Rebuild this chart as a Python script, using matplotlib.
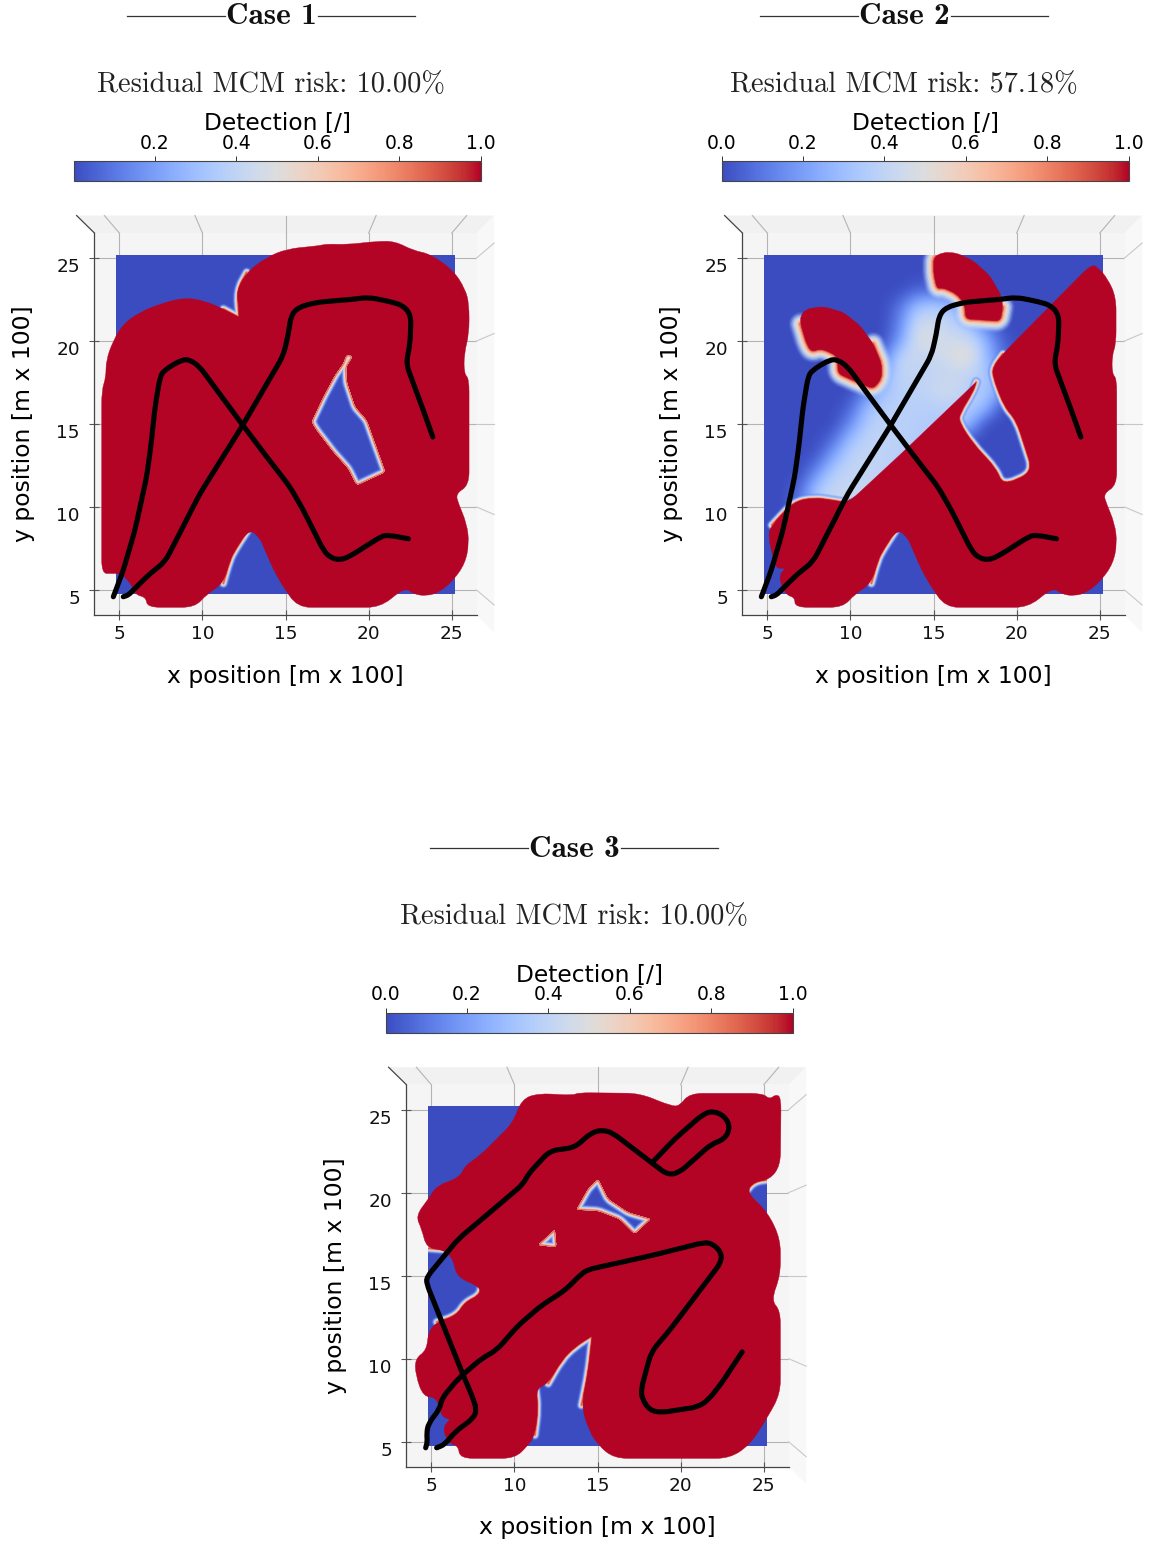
# Detection maps for the three MCM cases.
import numpy as np
import matplotlib
matplotlib.use('Agg')
import matplotlib.pyplot as plt
from matplotlib.patches import Polygon, Rectangle, PathPatch
from matplotlib.path import Path
from matplotlib.lines import Line2D
from matplotlib.cm import ScalarMappable
from matplotlib.colors import Normalize

# ------------------------------- data -------------------------------

titles = ['Case 1', 'Case 2', 'Case 3']
risks = ['Residual MCM risk: 10.00%', 'Residual MCM risk: 57.18%', 'Residual MCM risk: 10.00%']
ticks = [5, 10, 15, 20, 25]
cbar_ticks_1 = [0.2, 0.4, 0.6, 0.8, 1.0]
cbar_ticks = [0.0, 0.2, 0.4, 0.6, 0.8, 1.0]
area_x = [4.78, 25.2]
area_y = [4.76, 25.2]

# Vessel tracks, two pieces each.
track_12a = [(23.86, 14.22), (23.29, 15.82), (22.25, 18.63), (22.49, 19.83), (22.55, 21.53), (22.09, 22.13),
             (21.29, 22.37), (19.98, 22.63), (19.08, 22.51), (16.88, 22.33), (15.77, 22.03), (15.33, 21.53),
             (15.17, 20.43), (14.87, 19.13), (12.36, 14.82), (9.85, 10.81), (7.75, 6.70), (6.85, 6.0),
             (5.84, 5.0), (5.54, 4.70), (5.24, 4.60)]
track_12b = [(4.64, 4.60), (5.24, 6.20), (5.94, 8.61), (6.64, 11.81), (6.89, 13.62), (7.15, 16.02),
             (7.45, 17.83), (7.69, 18.23), (8.75, 18.87), (9.25, 18.87), (9.85, 18.43), (10.66, 17.32),
             (12.36, 15.02), (13.87, 13.02), (15.27, 11.21), (16.07, 9.81), (17.28, 7.40), (17.68, 6.96),
             (18.28, 6.80), (18.88, 7.04), (20.79, 8.25), (21.19, 8.31), (22.39, 8.09)]
track_3a = [(23.70, 10.41), (22.44, 8.50), (21.64, 7.50), (21.04, 7.10), (18.83, 6.76), (18.13, 6.90),
            (17.67, 7.60), (17.63, 8.20), (18.23, 10.41), (19.33, 11.71), (22.44, 15.81), (22.44, 16.41),
            (21.94, 16.91), (21.44, 17.01), (18.23, 16.21), (14.43, 15.37), (14.03, 15.11), (13.03, 14.11),
            (11.63, 13.21), (10.23, 12.01), (8.92, 10.51), (8.02, 10.01), (6.62, 8.80), (5.62, 7.60),
            (5.52, 7.0), (4.82, 6.10), (4.72, 5.50), (4.76, 5.0), (4.66, 4.64)]
track_3b = [(5.32, 4.64), (5.82, 4.84), (6.42, 5.60), (7.52, 6.40), (7.72, 6.90), (7.52, 7.60), (6.92, 9.0),
            (4.72, 14.51), (4.72, 14.91), (6.62, 17.21), (8.52, 18.81), (10.53, 20.52), (10.83, 21.12),
            (12.13, 22.52), (13.63, 22.72), (14.63, 23.62), (15.33, 23.78), (15.93, 23.58), (18.23, 21.82),
            (19.23, 21.06), (19.93, 21.22), (21.84, 22.92), (22.64, 23.22), (22.99, 23.92), (22.64, 24.62),
            (21.94, 24.92), (21.34, 24.72), (19.63, 23.22), (18.39, 21.92)]

# Fully detected regions (value 1).
red_1 = [(3.94, 6.00), (3.94, 17.02), (4.20, 17.83), (4.20, 18.83), (4.64, 20.03), (5.24, 21.03), (6.24, 21.73),
         (7.45, 22.23), (8.85, 22.60), (10.06, 22.44), (11.26, 21.93), (12.20, 21.43), (12.16, 22.23),
         (12.06, 23.04), (12.66, 24.14), (13.87, 25.04), (15.07, 25.54), (17.08, 25.74), (17.48, 25.84),
         (18.68, 25.80), (20.49, 26.00), (21.59, 26.00), (22.69, 25.44), (23.70, 25.24), (25.10, 24.24),
         (25.80, 23.14), (26.04, 22.23), (26.04, 20.43), (25.74, 19.23), (25.74, 18.03), (26.04, 17.73),
         (26.04, 11.31), (25.24, 10.81), (25.40, 10.21), (25.90, 9.01), (26.04, 7.81), (25.80, 6.60),
         (25.10, 5.60), (24.30, 4.90), (23.50, 4.64), (22.69, 4.76), (22.19, 5.16), (20.69, 3.96), (15.71, 3.96),
         (14.47, 5.80), (13.67, 7.61), (13.47, 8.11), (12.82, 8.71), (11.96, 7.40), (11.66, 6.80), (11.26, 5.40),
         (10.26, 4.76), (9.55, 3.96), (6.69, 3.96), (6.60, 4.56), (6.04, 4.70), (5.88, 5.00), (5.54, 5.60),
         (5.04, 6.00), (4.54, 6.00)]
red_2 = [(5.04, 8.31), (5.26, 8.91), (6.56, 10.31), (7.76, 10.57), (8.96, 10.41), (9.86, 10.25), (13.17, 13.32),
         (17.57, 17.53), (17.37, 16.92), (16.57, 15.62), (16.53, 15.12), (17.37, 13.82), (18.77, 12.31),
         (19.17, 11.31), (20.98, 12.11), (19.98, 15.22), (19.27, 16.02), (18.57, 17.83), (18.57, 18.43),
         (19.17, 19.23), (24.48, 24.60), (24.88, 24.44), (25.48, 23.74), (25.98, 22.64), (25.98, 19.83),
         (25.74, 19.13), (25.74, 18.03), (26.02, 17.73), (26.02, 11.31), (25.22, 10.81), (25.40, 10.21),
         (25.90, 9.01), (26.04, 7.81), (25.80, 6.60), (25.10, 5.60), (24.30, 4.90), (23.50, 4.64), (22.69, 4.76),
         (22.19, 5.16), (20.69, 3.96), (15.71, 3.96), (14.47, 5.80), (13.67, 7.61), (13.47, 8.11), (12.82, 8.71),
         (11.96, 7.40), (11.66, 6.80), (11.26, 5.40), (10.26, 4.76), (9.55, 3.96), (6.66, 3.96), (6.66, 4.56),
         (6.12, 4.70), (5.66, 5.80), (6.06, 6.30), (5.56, 6.30), (5.36, 6.90)]
red_2_cap_a = [(15.01, 25.04), (15.57, 25.34), (16.37, 25.30), (17.37, 24.84), (18.37, 23.94), (19.07, 22.74),
               (19.17, 22.03), (19.01, 21.19), (16.93, 21.33), (16.87, 22.23), (16.37, 22.84), (15.57, 23.20),
               (15.21, 23.14), (15.01, 24.04)]
red_2_cap_b = [(7.0, 21.53), (7.36, 21.93), (8.36, 22.07), (9.56, 21.73), (10.57, 20.93), (11.37, 19.83),
               (11.87, 18.63), (11.87, 17.73), (11.37, 17.12), (10.37, 17.53), (9.26, 18.03), (9.22, 19.03),
               (8.76, 19.33), (8.16, 19.53), (7.66, 19.33), (7.36, 19.83), (7.0, 21.03)]
red_3 = [(4.06, 18.61), (4.82, 19.61), (5.32, 20.42), (6.72, 20.92), (7.02, 21.62), (7.92, 22.22), (9.02, 23.32),
         (9.92, 24.22), (10.43, 25.62), (11.43, 25.98), (13.53, 25.86), (13.83, 26.02), (17.53, 25.98),
         (19.43, 25.22), (19.93, 25.22), (20.53, 25.98), (24.94, 25.98), (25.34, 25.62), (25.74, 25.92),
         (26.04, 25.72), (26.0, 21.62), (25.34, 20.78), (24.44, 20.66), (23.94, 20.06), (25.24, 18.81),
         (26.0, 17.21), (26.0, 15.01), (25.44, 13.51), (26.0, 12.91), (26.0, 7.90), (25.24, 6.50), (24.14, 4.80),
         (22.94, 4.0), (16.0, 4.0), (15.03, 4.80), (14.43, 5.80), (14.03, 7.20), (14.43, 9.20), (14.67, 11.37),
         (13.63, 10.71), (12.83, 9.90), (12.03, 8.50), (11.29, 8.20), (11.43, 7.0), (11.23, 5.40), (10.83, 4.80),
         (10.03, 4.0), (6.72, 4.0), (6.62, 4.76), (6.06, 4.90), (5.66, 5.80), (6.12, 6.36), (5.62, 6.50),
         (5.32, 7.70), (4.52, 7.70), (4.06, 9.0), (4.02, 10.0), (4.72, 10.51), (4.82, 11.61), (5.32, 12.21),
         (6.52, 12.61), (7.02, 13.41), (7.86, 13.81), (7.98, 14.31), (6.52, 14.91), (6.32, 16.01), (5.72, 16.57),
         (4.72, 16.65), (4.42, 17.81)]

# Undetected pockets inside the red regions.
hole_1 = [(16.57, 15.12), (17.28, 16.62), (17.98, 17.93), (18.48, 18.63), (18.68, 19.19), (19.04, 19.07),
          (18.64, 18.43), (18.68, 17.53), (19.18, 16.02), (19.88, 15.22), (21.0, 12.11), (19.28, 11.31),
          (18.78, 12.31), (17.88, 13.32), (16.88, 14.62)]
hole_3a = [(13.73, 18.97), (14.43, 20.22), (15.03, 20.82), (15.63, 19.61), (16.83, 18.81), (18.19, 18.41),
           (17.23, 17.51), (16.33, 18.41), (15.03, 18.91)]
hole_3b = [(11.43, 16.85), (12.43, 17.77), (12.53, 16.71)]

# Soft borders (under the red regions).
soft_1 = [[(11.26, 21.93), (12.20, 21.43), (12.06, 23.04), (12.66, 24.14)],
          [(12.82, 8.71), (11.96, 7.40), (11.66, 6.80), (11.26, 5.40)]]
soft_2 = [[(5.26, 8.91), (6.56, 10.31), (7.76, 10.57), (8.96, 10.41), (9.86, 10.25)],
          [(17.57, 17.53), (17.37, 16.92), (16.57, 15.62), (16.53, 15.12), (17.37, 13.82), (18.77, 12.31),
           (19.17, 11.31), (20.98, 12.11), (19.98, 15.22), (19.27, 16.02), (18.57, 17.83), (18.57, 18.43),
           (19.17, 19.23)],
          [(12.82, 8.71), (11.96, 7.40), (11.66, 6.80), (11.26, 5.40)]]
soft_2_wide = [[(15.57, 25.34), (15.01, 25.04), (15.01, 24.04), (15.21, 23.14), (15.57, 23.20), (16.37, 22.84),
                (16.87, 22.23), (16.93, 21.33), (19.01, 21.19), (19.17, 22.03)],
               [(7.0, 21.03), (7.36, 19.83), (7.66, 19.33), (8.16, 19.53), (8.76, 19.33), (9.22, 19.03),
                (9.26, 18.03), (10.37, 17.53), (11.37, 17.12), (11.87, 17.73), (11.87, 18.63), (11.37, 19.83)]]
soft_3 = [[(11.29, 8.20), (11.43, 7.0), (11.23, 5.40)],
          [(12.03, 8.50), (12.83, 9.90), (13.63, 10.71), (14.67, 11.37), (14.43, 9.20), (14.03, 7.20)],
          [(25.34, 20.78), (24.44, 20.66), (23.94, 20.06)],
          [(7.98, 14.31), (7.86, 13.81), (7.02, 13.41), (6.52, 12.61), (5.32, 12.21)],
          [(5.72, 16.57), (4.72, 16.65)]]

# Partial detection of case 2, read on a 1 x 1 grid.
field_x = [5, 20]
field_y = [10, 24]
field_2 = np.array([
    [0, 0, 0, 0, 0, 0, 0, 0, 0, 0, 0, 0, 0, 0, 0, 0],
    [0, 0, 0, 0, 0, 0, 0, 0, 0, .05, .05, 0, 0, 0, 0, 0],
    [0, 0, 0, 0, 0, 0, 0, 0, .1, .32, .36, .32, .1, 0, 0, 0],
    [0, 0, 0, 0, 0, 0, 0, 0, .15, .45, .44, .4, .3, .1, 0, 0],
    [0, 0, 0, 0, 0, 0, 0, 0, .2, .5, .48, .45, .45, .3, .05, 0],
    [0, 0, 0, 0, 0, 0, 0, .1, .42, .42, .42, .48, .56, .32, .1, 0],
    [0, 0, 0, 0, 0, 0, 0, .2, .43, .39, .4, .42, .4, .34, .2, 0],
    [0, 0, 0, 0, 0, 0, .1, .32, .38, .39, .43, .47, .38, .34, .25, 0],
    [0, 0, 0, 0, 0, .05, .3, .37, .38, .37, .37, .37, .35, .33, 0, 0],
    [0, 0, 0, 0, 0, .15, .36, .4, .38, .36, .36, .36, .33, 0, 0, 0],
    [0, 0, 0, 0, .08, .32, .4, .4, .38, .36, .36, 0, 0, 0, 0, 0],
    [0, 0, 0, .03, .24, .4, .41, .39, .38, .36, 0, 0, 0, 0, 0, 0],
    [0, 0, 0, .18, .38, .41, .41, .39, .36, 0, 0, 0, 0, 0, 0, 0],
    [0, 0, .08, .35, .42, .42, .41, .38, 0, 0, 0, 0, 0, 0, 0, 0],
    [0, 0, .1, .38, .43, .43, .41, .33, 0, 0, 0, 0, 0, 0, 0, 0],
])

# ----------------------------- settings -----------------------------

W, H = 1159, 1542
cmap = plt.get_cmap('coolwarm')
ramp = [0.1, 0.14, 0.2, 0.27, 0.35, 0.45, 0.6, 0.75, 0.88]
ramp_alpha = [0.12, 0.25, 0.4, 0.6, 0.8, 1, 1, 1, 1]
wide_ramp = [0.3, 0.34, 0.38, 0.42, 0.46, 0.52, 0.6, 0.72, 0.86]
wide_alpha = [0.12, 0.25, 0.4, 0.55, 0.7, 0.85, 1, 1, 1]
plt.rcParams['font.family'] = ['DejaVu Sans']

fig = plt.figure(figsize=(W / 100, H / 100), dpi=100)


def to_fig(x0, y0, x1, y1):
    # Pixel box (top-left origin) to figure fractions.
    return [x0 / W, 1 - y1 / H, (x1 - x0) / W, (y1 - y0) / H]


def round_path(points, closed=False, r=0.8):
    # The outlines are drawn with curved corners, except the sharp tips.
    p = np.array(points, dtype=float)
    n = len(p)
    verts, codes = [], []
    for i in range(n):
        if not closed and i in (0, n - 1):
            verts.append(p[i])
            codes.append(Path.MOVETO if i == 0 else Path.LINETO)
            continue
        a, b = p[i - 1] - p[i], p[(i + 1) % n] - p[i]
        la, lb = np.hypot(*a), np.hypot(*b)
        rr = 0.1 if a @ b / (la * lb) > 0.35 else r
        start = p[i] + a / la * min(rr, la / 2)
        end = p[i] + b / lb * min(rr, lb / 2)
        verts += [start, p[i], end]
        codes += [Path.MOVETO if closed and i == 0 else Path.LINETO, Path.CURVE3, Path.CURVE3]
    if closed:
        verts.append(verts[0])
        codes.append(Path.CLOSEPOLY)
    return Path(verts, codes)


def soft_edge(ax, points, radius, clip, values=ramp, alphas=ramp_alpha, closed=False, zorder=3, r=0.8):
    # Detection falls off from 1 to 0 over a few pixels away from a border.
    path = round_path(points, closed=closed, r=r)
    for i, value in enumerate(values):
        width = 2 * radius * (1 - i / len(values)) * 0.72
        stroke = PathPatch(path, fc='none', ec=cmap(value), lw=width, zorder=zorder, joinstyle='round',
                           capstyle='round', alpha=alphas[i])
        ax.add_patch(stroke)
        stroke.set_clip_path(clip)


def case_panel(dx, dy, tx, ty, title, risk, cticks, reds, holes, softs, tracks, caps=(), wide=(), field=None):
    # Heading with its two rules.
    fig.text(tx / W, 1 - (17 + ty) / H, title, family='cmb10', fontsize=22.5, ha='center', va='center', color='#111111')
    for a, b in [(-144, -46), (47, 144)]:
        fig.add_artist(Line2D([(tx + a) / W, (tx + b) / W], [1 - (16 + ty) / H] * 2, color='#333333', lw=0.9))
    fig.text(tx / W, 1 - (85 + ty) / H, risk, family='cmr10', fontsize=20.4, ha='center', va='center', color='#222222')

    # Colour bar.
    cax = fig.add_axes(to_fig(73.5 + dx, 161 + dy, 480.5 + dx, 181 + dy))
    sm = ScalarMappable(norm=Normalize(0.0, 1.0), cmap=cmap)
    cb = fig.colorbar(sm, cax=cax, orientation='horizontal', ticks=cticks)
    cax.xaxis.set_ticks_position('top')
    cax.xaxis.set_label_position('top')
    cax.tick_params(labelsize=13.5, length=3.5, width=0.7, pad=2.5, color='#333333')
    cb.set_label('Detection [/]', fontsize=16.8, labelpad=0)
    cax.xaxis.set_label_coords(0.5, 2.87, transform=cax.transAxes)
    cax.xaxis.label.set_va('center')
    cb.outline.set_linewidth(0.8)
    cb.outline.set_edgecolor('#444444')

    # Main axes, the back walls are drawn outside them.
    ax = fig.add_axes(to_fig(94.4 + dx, 233 + dy, 476.7 + dx, 615 + dy))
    ax.set_facecolor('#f5f5f5')
    ax.set_axisbelow(True)
    ax.grid(color='#b4b4b4', lw=0.8)

    top = 27.55
    wall_top = Polygon([(3.5, 26.5), (26.5, 26.5), (top, top), (2.43, top)], fc='#f1f1f1', ec='none', clip_on=False)
    wall_right = Polygon([(26.5, 26.5), (top, top), (top, 2.45), (26.5, 3.5)], fc='#f8f8f8', ec='none', clip_on=False)
    ax.add_patch(wall_top)
    ax.add_patch(wall_right)
    for t in ticks:
        end = 15 + (t - 15) * 1.09
        ax.plot([t, end], [26.5, top], color='#b4b4b4', lw=0.8, clip_on=False, zorder=1.5)
        ax.plot([26.5, top], [t, end], color='#c8c8c8', lw=0.8, clip_on=False, zorder=1.5)
    ax.plot([3.5, 2.43], [26.5, top], color='#444444', lw=0.9, clip_on=False, zorder=1.5)

    # Search area, then what was detected in it.
    area = Rectangle((area_x[0], area_y[0]), area_x[1] - area_x[0], area_y[1] - area_y[0],
                     fc=cmap(0.0), ec='none', zorder=2)
    ax.add_patch(area)
    if field is not None:
        im = ax.imshow(field, cmap=cmap, vmin=0, vmax=1, interpolation='bicubic', aspect='auto', zorder=2.5,
                       extent=(field_x[0] - 0.5, field_x[1] + 0.5, field_y[0] - 0.5, field_y[1] + 0.5))
        im.set_clip_path(area)
    for points in softs:
        soft_edge(ax, points, 5.5, area)
    for points in wide:
        soft_edge(ax, points, 12, area, values=wide_ramp, alphas=wide_alpha, r=0.3)
    for points in reds:
        ax.add_patch(PathPatch(round_path(points, closed=True), fc=cmap(1.0), ec=cmap(1.0), lw=0.3, zorder=4))
    for points in caps:
        ax.add_patch(PathPatch(round_path(points, closed=True, r=0.3), fc=cmap(1.0), ec=cmap(1.0), lw=0.3, zorder=4))
    for points in holes:
        hole = PathPatch(round_path(points, closed=True, r=0.2), fc=cmap(0.0), ec='none', zorder=5)
        ax.add_patch(hole)
        soft_edge(ax, points, 6, hole, closed=True, zorder=5, r=0.2)
    for points in tracks:
        ax.add_patch(PathPatch(round_path(points, r=0.5), fc='none', ec='black', lw=3.7, zorder=6,
                               joinstyle='round', capstyle='round'))

    ax.set_xlim(3.5, 26.5)
    ax.set_ylim(3.5, 26.5)
    ax.set_xticks(ticks)
    ax.set_yticks(ticks)
    ax.tick_params(labelsize=13.3, direction='inout', length=7, width=0.8, color='#555555', labelcolor='#111111')
    ax.tick_params(axis='x', pad=4)
    ax.tick_params(axis='y', pad=7)
    for label in ax.get_yticklabels():
        label.set_va('top')
    for side in ['top', 'right']:
        ax.spines[side].set_visible(False)
    for side in ['left', 'bottom']:
        ax.spines[side].set_color('#444444')
        ax.spines[side].set_linewidth(0.9)
    ax.set_xlabel('x position [m x 100]', fontsize=16.9)
    ax.set_ylabel('y position [m x 100]', fontsize=16.9)
    ax.xaxis.set_label_coords(0.5, -0.16)
    ax.yaxis.set_label_coords(-0.185, 0.5)
    ax.xaxis.label.set_va('center')
    ax.yaxis.label.set_va('center')


case_panel(0, 0, 271, 0, titles[0], risks[0], cbar_ticks_1, [red_1], [hole_1], soft_1, [track_12a, track_12b])
case_panel(648, 0, 904, 0, titles[1], risks[1], cbar_ticks, [red_2], [], soft_2, [track_12a, track_12b],
           caps=[red_2_cap_a, red_2_cap_b], wide=soft_2_wide, field=field_2)
case_panel(312, 851.7, 574, 832, titles[2], risks[2], cbar_ticks, [red_3], [hole_3a, hole_3b], soft_3,
           [track_3a, track_3b])

fig.savefig('out.png', dpi=100)
